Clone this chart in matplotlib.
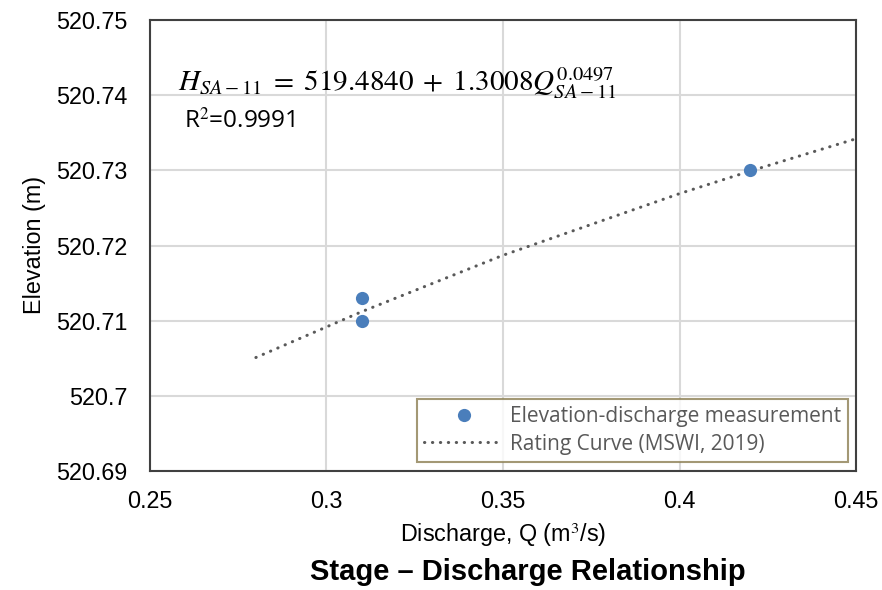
import matplotlib
matplotlib.use("Agg")
import matplotlib.pyplot as plt
from matplotlib.ticker import FixedLocator, FuncFormatter

# ---------------------------------------------------------------------------
# Data
# ---------------------------------------------------------------------------
meas_q = [0.31, 0.31, 0.42]
meas_h = [520.713, 520.710, 520.730]

# rating curve H = 519.4840 + 1.3008 Q^0.0497, tabulated
curve_q = [0.28, 0.31, 0.35, 0.40, 0.42, 0.45]
curve_h = [520.7051, 520.7112, 520.7187, 520.7269, 520.7299, 520.7342]

x_ticks = [0.25, 0.30, 0.35, 0.40, 0.45]
y_ticks = [520.69, 520.70, 520.71, 520.72, 520.73, 520.74, 520.75]

plt.rcParams["font.family"] = ["Liberation Sans", "DejaVu Sans"]
plt.rcParams["mathtext.fontset"] = "stix"

fig = plt.figure(figsize=(8.82, 5.90), dpi=100)
ax = fig.add_axes([150 / 882, 119 / 590, 706 / 882, 451 / 590])

ax.plot(curve_q, curve_h, color="#595959", lw=2.2,
        linestyle=(0, (0.1, 2.5)), dash_capstyle="round",
        label="Rating Curve (MSWI, 2019)", zorder=3)
ax.plot(meas_q, meas_h, "o", color="#4A7EBB", markersize=9.5,
        markeredgewidth=0, label="Elevation-discharge measurement", zorder=4)

ax.set_xlim(0.25, 0.45)
ax.set_ylim(520.69, 520.75)
ax.xaxis.set_major_locator(FixedLocator(x_ticks))
ax.yaxis.set_major_locator(FixedLocator(y_ticks))
trim = FuncFormatter(lambda v, _: f"{v:.2f}".rstrip("0").rstrip("."))
ax.xaxis.set_major_formatter(trim)
ax.yaxis.set_major_formatter(trim)
ax.tick_params(length=0, labelsize=16.8, colors="black")
ax.tick_params(axis="y", pad=16)
ax.tick_params(axis="x", pad=14)
ax.grid(True, color="#D9D9D9", lw=1.5)
ax.set_axisbelow(True)
for s in ax.spines.values():
    s.set_color("#404040")
    s.set_linewidth(1.5)

handles, labels = ax.get_legend_handles_labels()
leg = ax.legend(handles[::-1], labels[::-1], loc="lower right",
                bbox_to_anchor=(848 / 882, (590 - 462) / 590),
                bbox_transform=fig.transFigure,
                prop={"family": "Open Sans", "size": 15},
                labelcolor="#595959", frameon=True, fancybox=False,
                handlelength=3.8, handletextpad=0.3, borderpad=0.35,
                labelspacing=0.3, borderaxespad=0)
leg.get_frame().set_edgecolor("#8C7F52")
leg.get_frame().set_linewidth(1.5)

# fitted equation and goodness of fit
fig.text(178 / 882, 1 - 90 / 590,
         r"$H_{SA-11}\;=\;519.4840\;+\;1.3008Q_{SA-11}^{0.0497}$",
         fontsize=21, va="baseline", ha="left")
fig.text(184 / 882, 1 - 128 / 590, "R$^{2}$=0.9991", fontsize=17.5,
         family=["Open Sans", "DejaVu Sans"], va="baseline", ha="left")

fig.text(35 / 882, 1 - 245 / 590, "Elevation (m)", rotation=90,
         fontsize=16.8, ha="center", va="center")
fig.text(503 / 882, 1 - 535 / 590, "Discharge, Q (m$^3$/s)",
         fontsize=16.8, ha="center", va="center")
fig.text(528 / 882, 1 - 572 / 590, "Stage \u2013 Discharge Relationship",
         fontsize=21, fontweight="bold", ha="center", va="center")

fig.savefig("out.png", dpi=100)
